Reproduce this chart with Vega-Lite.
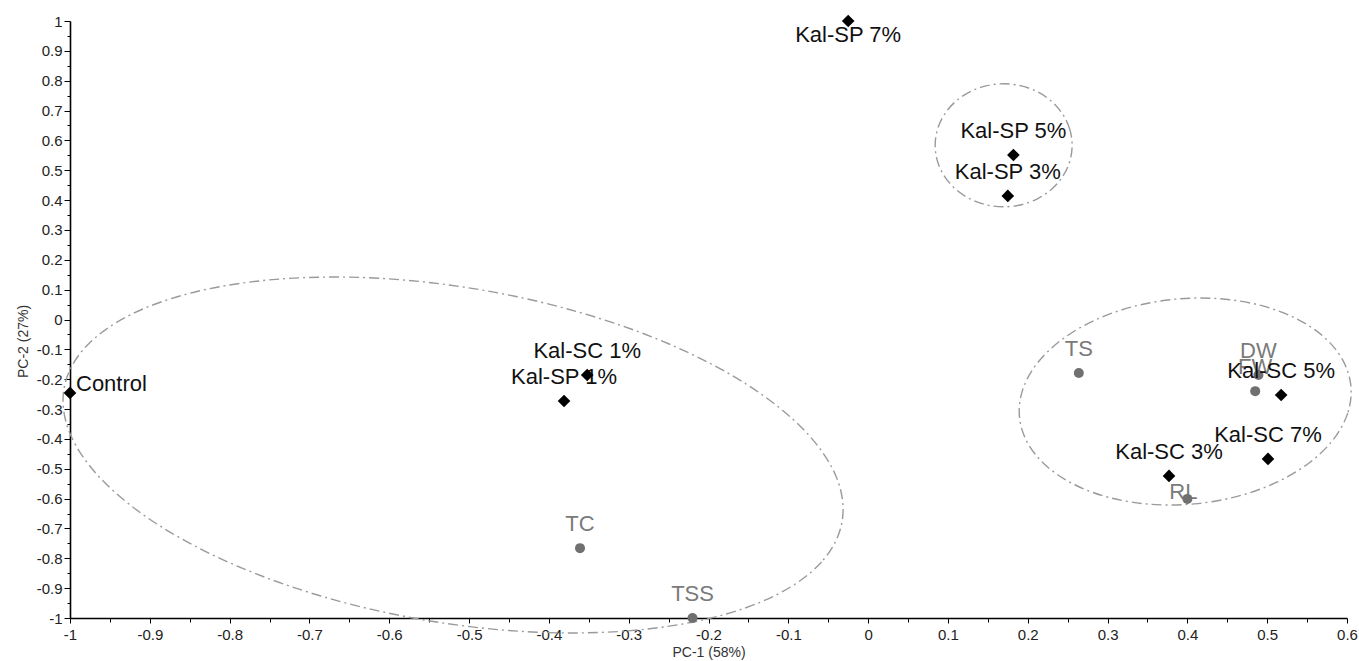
{
  "$schema": "https://vega.github.io/schema/vega-lite/v6.json",
  "autosize": "none",
  "width": 1277,
  "height": 597,
  "padding": {"left": 70, "top": 21, "right": 12, "bottom": 43},
  "background": "white",
  "config": {"view": {"stroke": null}, "font": "Liberation Sans"},
  "resolve": {"axis": {"x": "independent", "y": "independent"}},
  "datasets": {
    "pts": [
      {"name": "Kal-SP 7%", "kind": "treatment", "x": -0.025, "y": 1.0},
      {"name": "Kal-SP 5%", "kind": "treatment", "x": 0.182, "y": 0.551},
      {"name": "Kal-SP 3%", "kind": "treatment", "x": 0.175, "y": 0.414},
      {"name": "Control", "kind": "treatment", "x": -1.0, "y": -0.246},
      {"name": "Kal-SC 1%", "kind": "treatment", "x": -0.352, "y": -0.186},
      {"name": "Kal-SP 1%", "kind": "treatment", "x": -0.381, "y": -0.273},
      {"name": "Kal-SC 5%", "kind": "treatment", "x": 0.5175, "y": -0.253},
      {"name": "Kal-SC 7%", "kind": "treatment", "x": 0.501, "y": -0.467},
      {"name": "Kal-SC 3%", "kind": "treatment", "x": 0.377, "y": -0.524},
      {"name": "TC", "kind": "variable", "x": -0.361, "y": -0.766},
      {"name": "TSS", "kind": "variable", "x": -0.22, "y": -1.0},
      {"name": "TS", "kind": "variable", "x": 0.264, "y": -0.179},
      {"name": "DW", "kind": "variable", "x": 0.489, "y": -0.186},
      {"name": "FW", "kind": "variable", "x": 0.485, "y": -0.24},
      {"name": "RL", "kind": "variable", "x": 0.4, "y": -0.601}
    ],
    "ell": [
      {"e": "A", "i": 0, "x": -0.0326, "y": -0.6767},
      {"e": "A", "i": 1, "x": -0.0584, "y": -0.8122},
      {"e": "A", "i": 2, "x": -0.1156, "y": -0.9234},
      {"e": "A", "i": 3, "x": -0.2004, "y": -1.0025},
      {"e": "A", "i": 4, "x": -0.3070, "y": -1.0443},
      {"e": "A", "i": 5, "x": -0.4281, "y": -1.0458},
      {"e": "A", "i": 6, "x": -0.5554, "y": -1.0070},
      {"e": "A", "i": 7, "x": -0.6804, "y": -0.9305},
      {"e": "A", "i": 8, "x": -0.7944, "y": -0.8215},
      {"e": "A", "i": 9, "x": -0.8897, "y": -0.6875},
      {"e": "A", "i": 10, "x": -0.9598, "y": -0.5376},
      {"e": "A", "i": 11, "x": -1.0000, "y": -0.3819},
      {"e": "A", "i": 12, "x": -1.0075, "y": -0.2312},
      {"e": "A", "i": 13, "x": -0.9817, "y": -0.0956},
      {"e": "A", "i": 14, "x": -0.9245, "y": 0.0155},
      {"e": "A", "i": 15, "x": -0.8397, "y": 0.0947},
      {"e": "A", "i": 16, "x": -0.7331, "y": 0.1364},
      {"e": "A", "i": 17, "x": -0.6120, "y": 0.1380},
      {"e": "A", "i": 18, "x": -0.4847, "y": 0.0992},
      {"e": "A", "i": 19, "x": -0.3598, "y": 0.0226},
      {"e": "A", "i": 20, "x": -0.2457, "y": -0.0863},
      {"e": "A", "i": 21, "x": -0.1504, "y": -0.2204},
      {"e": "A", "i": 22, "x": -0.0803, "y": -0.3703},
      {"e": "A", "i": 23, "x": -0.0401, "y": -0.5259},
      {"e": "B", "i": 0, "x": 0.6049, "y": -0.2232},
      {"e": "B", "i": 1, "x": 0.6009, "y": -0.3137},
      {"e": "B", "i": 2, "x": 0.5830, "y": -0.4015},
      {"e": "B", "i": 3, "x": 0.5525, "y": -0.4807},
      {"e": "B", "i": 4, "x": 0.5114, "y": -0.5459},
      {"e": "B", "i": 5, "x": 0.4625, "y": -0.5926},
      {"e": "B", "i": 6, "x": 0.4091, "y": -0.6176},
      {"e": "B", "i": 7, "x": 0.3550, "y": -0.6193},
      {"e": "B", "i": 8, "x": 0.3037, "y": -0.5975},
      {"e": "B", "i": 9, "x": 0.2589, "y": -0.5536},
      {"e": "B", "i": 10, "x": 0.2234, "y": -0.4908},
      {"e": "B", "i": 11, "x": 0.1998, "y": -0.4132},
      {"e": "B", "i": 12, "x": 0.1896, "y": -0.3262},
      {"e": "B", "i": 13, "x": 0.1936, "y": -0.2357},
      {"e": "B", "i": 14, "x": 0.2115, "y": -0.1479},
      {"e": "B", "i": 15, "x": 0.2420, "y": -0.0687},
      {"e": "B", "i": 16, "x": 0.2831, "y": -0.0035},
      {"e": "B", "i": 17, "x": 0.3320, "y": 0.0432},
      {"e": "B", "i": 18, "x": 0.3853, "y": 0.0682},
      {"e": "B", "i": 19, "x": 0.4395, "y": 0.0698},
      {"e": "B", "i": 20, "x": 0.4907, "y": 0.0480},
      {"e": "B", "i": 21, "x": 0.5356, "y": 0.0042},
      {"e": "B", "i": 22, "x": 0.5711, "y": -0.0586},
      {"e": "B", "i": 23, "x": 0.5947, "y": -0.1362},
      {"e": "C", "i": 0, "x": 0.2556, "y": 0.5836},
      {"e": "C", "i": 1, "x": 0.2527, "y": 0.6369},
      {"e": "C", "i": 2, "x": 0.2441, "y": 0.6866},
      {"e": "C", "i": 3, "x": 0.2305, "y": 0.7293},
      {"e": "C", "i": 4, "x": 0.2127, "y": 0.7620},
      {"e": "C", "i": 5, "x": 0.1920, "y": 0.7826},
      {"e": "C", "i": 6, "x": 0.1698, "y": 0.7896},
      {"e": "C", "i": 7, "x": 0.1476, "y": 0.7826},
      {"e": "C", "i": 8, "x": 0.1269, "y": 0.7620},
      {"e": "C", "i": 9, "x": 0.1091, "y": 0.7293},
      {"e": "C", "i": 10, "x": 0.0955, "y": 0.6866},
      {"e": "C", "i": 11, "x": 0.0869, "y": 0.6369},
      {"e": "C", "i": 12, "x": 0.0840, "y": 0.5836},
      {"e": "C", "i": 13, "x": 0.0869, "y": 0.5303},
      {"e": "C", "i": 14, "x": 0.0955, "y": 0.4806},
      {"e": "C", "i": 15, "x": 0.1091, "y": 0.4379},
      {"e": "C", "i": 16, "x": 0.1269, "y": 0.4052},
      {"e": "C", "i": 17, "x": 0.1476, "y": 0.3846},
      {"e": "C", "i": 18, "x": 0.1698, "y": 0.3776},
      {"e": "C", "i": 19, "x": 0.1920, "y": 0.3846},
      {"e": "C", "i": 20, "x": 0.2127, "y": 0.4052},
      {"e": "C", "i": 21, "x": 0.2305, "y": 0.4379},
      {"e": "C", "i": 22, "x": 0.2441, "y": 0.4806},
      {"e": "C", "i": 23, "x": 0.2527, "y": 0.5303}
    ]
  },
  "layer": [
    {
      "data": {"name": "ell"},
      "mark": {"type": "line", "interpolate": "cardinal-closed", "stroke": "#9a9a9a", "strokeWidth": 1.4, "strokeDash": [10, 4, 2, 4]},
      "encoding": {
        "x": {"field": "x", "type": "quantitative",
          "scale": {"domain": [-1, 0.6], "nice": false, "zero": false},
          "axis": {
            "orient": "bottom",
            "title": "PC-1 (58%)",
            "values": [-1, -0.9, -0.8, -0.7, -0.6, -0.5, -0.4, -0.3, -0.2, -0.1, 0, 0.1, 0.2, 0.3, 0.4, 0.5, 0.6],
            "format": ".1~f",
            "labelExpr": "replace(datum.label, '\u2212', '-')",
            "tickSize": 5,
            "grid": false, "labelOverlap": false, "labelFlush": false,
            "domainColor": "#000", "domainWidth": 1.6, "tickColor": "#000", "tickWidth": 1,
            "labelFont": "Liberation Sans", "labelFontSize": 15, "labelColor": "#222", "labelPadding": 4,
            "titleFont": "Liberation Sans", "titleFontSize": 14, "titleFontWeight": "normal", "titleColor": "#333", "titlePadding": 3
          }
        },
        "y": {"field": "y", "type": "quantitative",
          "scale": {"domain": [-1, 1], "nice": false, "zero": false},
          "axis": {
            "orient": "left",
            "title": "PC-2 (27%)",
            "values": [-1, -0.9, -0.8, -0.7, -0.6, -0.5, -0.4, -0.3, -0.2, -0.1, 0, 0.1, 0.2, 0.3, 0.4, 0.5, 0.6, 0.7, 0.8, 0.9, 1],
            "format": ".1~f",
            "labelExpr": "replace(datum.label, '\u2212', '-')",
            "tickSize": 6,
            "grid": false, "labelOverlap": false, "labelFlush": false,
            "domainColor": "#000", "domainWidth": 1.6, "tickColor": "#000", "tickWidth": 1,
            "labelFont": "Liberation Sans", "labelFontSize": 15, "labelColor": "#222", "labelPadding": 2,
            "titleFont": "Liberation Sans", "titleFontSize": 14, "titleFontWeight": "normal", "titleColor": "#333", "titlePadding": 6,
            "titleY": 320
          }
        },
        "detail": {"field": "e"},
        "order": {"field": "i", "type": "quantitative"}
      }
    },
    {
      "mark": {"type": "rule", "stroke": "#9a9a9a", "strokeWidth": 1.5},
      "encoding": {"y": {"datum": 0, "type": "quantitative",
        "axis": {
          "orient": "left",
          "values": [-0.95, -0.85, -0.75, -0.65, -0.55, -0.45, -0.35, -0.25, -0.15, -0.05, 0.05, 0.15, 0.25, 0.35, 0.45, 0.55, 0.65, 0.75, 0.85, 0.95],
          "labels": false, "domain": false, "grid": false, "title": null,
          "tickSize": 3, "tickColor": "#000", "tickWidth": 1
        }}}
    },
    {
      "mark": {"type": "rule", "stroke": "#9a9a9a", "strokeWidth": 1.5},
      "encoding": {"x": {"datum": 0, "type": "quantitative",
        "axis": {
          "orient": "bottom",
          "values": [-0.95, -0.85, -0.75, -0.65, -0.55, -0.45, -0.35, -0.25, -0.15, -0.05, 0.05, 0.15, 0.25, 0.35, 0.45, 0.55],
          "labels": false, "domain": false, "grid": false, "title": null,
          "tickSize": 4, "tickColor": "#000", "tickWidth": 1
        }}}
    },
    {
      "data": {"name": "pts"},
      "transform": [{"filter": "datum.kind == 'variable' && datum.name != 'RL'"}],
      "mark": {"type": "text", "font": "Liberation Sans", "fontSize": 22, "color": "#7a7a7a", "align": "center", "baseline": "middle", "dy": -24},
      "encoding": {"x": {"field": "x", "type": "quantitative", "axis": null}, "y": {"field": "y", "type": "quantitative", "axis": null}, "text": {"field": "name"}}
    },
    {
      "data": {"name": "pts"},
      "transform": [{"filter": "datum.name == 'RL'"}],
      "mark": {"type": "text", "font": "Liberation Sans", "fontSize": 22, "color": "#7a7a7a", "align": "center", "baseline": "middle", "dx": -4, "dy": -7},
      "encoding": {"x": {"field": "x", "type": "quantitative", "axis": null}, "y": {"field": "y", "type": "quantitative", "axis": null}, "text": {"field": "name"}}
    },
    {
      "data": {"name": "pts"},
      "transform": [{"filter": "datum.kind == 'variable'"}],
      "mark": {"type": "point", "shape": "circle", "filled": true, "size": 100, "color": "#707070", "opacity": 1},
      "encoding": {"x": {"field": "x", "type": "quantitative", "axis": null}, "y": {"field": "y", "type": "quantitative", "axis": null}}
    },
    {
      "data": {"name": "pts"},
      "transform": [{"filter": "datum.kind == 'treatment' && datum.name != 'Control' && datum.name != 'Kal-SP 7%'"}],
      "mark": {"type": "text", "font": "Liberation Sans", "fontSize": 22, "color": "#111", "align": "center", "baseline": "middle", "dy": -24},
      "encoding": {"x": {"field": "x", "type": "quantitative", "axis": null}, "y": {"field": "y", "type": "quantitative", "axis": null}, "text": {"field": "name"}}
    },
    {
      "data": {"name": "pts"},
      "transform": [{"filter": "datum.name == 'Control'"}],
      "mark": {"type": "text", "font": "Liberation Sans", "fontSize": 22, "color": "#111", "align": "left", "baseline": "middle", "dx": 6, "dy": -9},
      "encoding": {"x": {"field": "x", "type": "quantitative", "axis": null}, "y": {"field": "y", "type": "quantitative", "axis": null}, "text": {"field": "name"}}
    },
    {
      "data": {"name": "pts"},
      "transform": [{"filter": "datum.name == 'Kal-SP 7%'"}],
      "mark": {"type": "text", "font": "Liberation Sans", "fontSize": 22, "color": "#111", "align": "center", "baseline": "middle", "dy": 14},
      "encoding": {"x": {"field": "x", "type": "quantitative", "axis": null}, "y": {"field": "y", "type": "quantitative", "axis": null}, "text": {"field": "name"}}
    },
    {
      "data": {"name": "pts"},
      "transform": [{"filter": "datum.kind == 'treatment'"}],
      "mark": {"type": "point", "shape": "diamond", "filled": true, "size": 160, "color": "#000", "opacity": 1},
      "encoding": {"x": {"field": "x", "type": "quantitative", "axis": null}, "y": {"field": "y", "type": "quantitative", "axis": null}}
    }
  ]
}
